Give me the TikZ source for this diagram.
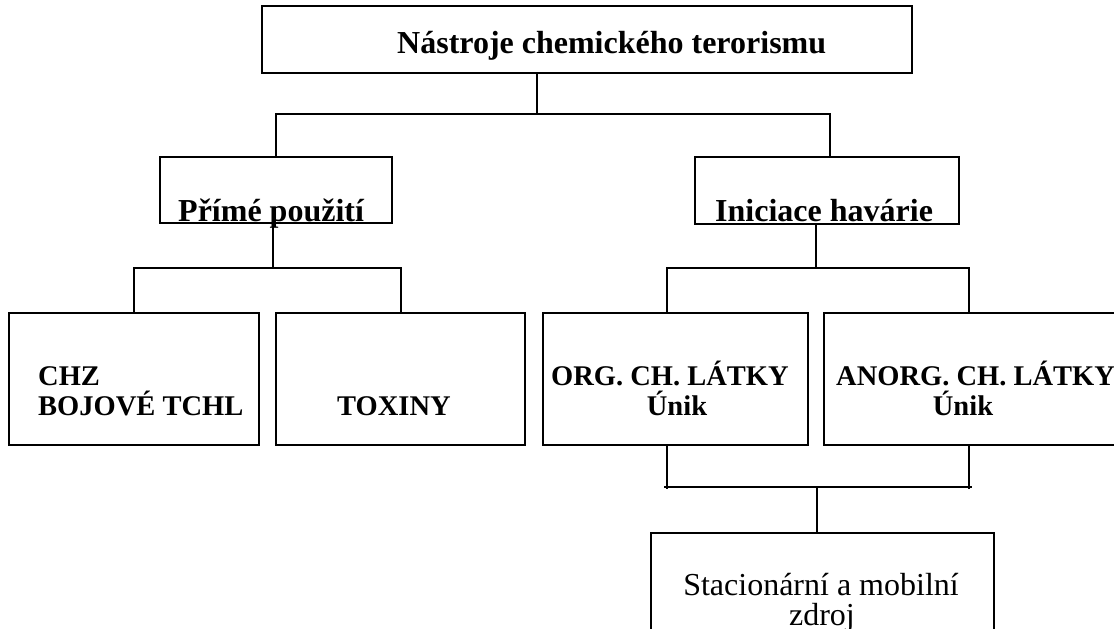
\documentclass[tikz,border=0pt]{standalone}
\usepackage{fontspec}
\setmainfont{Liberation Serif}
\begin{document}
\begin{tikzpicture}[x=1pt,y=-1pt,
  box/.style={draw, line width=1.4pt, inner sep=0pt, outer sep=0pt},
  conn/.style={line width=1.4pt},
  tb/.style={inner sep=0pt, anchor=base west, font=\bfseries\fontsize{32}{30}\selectfont},
  ts/.style={inner sep=0pt, anchor=base west, font=\bfseries\fontsize{28.5}{30}\selectfont},
  tr/.style={inner sep=0pt, anchor=base, font=\fontsize{32}{30}\selectfont}]
\useasboundingbox (0,0) rectangle (1114,629);
% boxes
\node[box, minimum width=650pt, minimum height=67pt] (top) at (587,39.5) {};
\node[box, minimum width=232pt, minimum height=66pt] (pp) at (276,190) {};
\node[box, minimum width=264pt, minimum height=67pt] (ih) at (827,190.5) {};
\node[box, minimum width=250pt, minimum height=132pt] (chz) at (134,379) {};
\node[box, minimum width=249pt, minimum height=132pt] (tox) at (400.5,379) {};
\node[box, minimum width=265pt, minimum height=132pt] (org) at (675.5,379) {};
\node[box, minimum width=300pt, minimum height=132pt] (an) at (974,379) {};
\node[box, minimum width=343pt, minimum height=117pt] (st) at (822.5,591.5) {};
% junctions
\coordinate (a0) at (537,114);
\coordinate (aL) at (276,114);
\coordinate (aR) at (830,114);
\coordinate (b0) at (273,268);
\coordinate (bL) at (134,268);
\coordinate (bR) at (401,268);
\coordinate (c0) at (816,268);
\coordinate (cL) at (667,268);
\coordinate (cR) at (969,268);
\coordinate (dL) at (667,487);
\coordinate (dR) at (969,487);
\coordinate (d0) at (817,487);
% connectors
\draw[conn] (top.south -| a0) -- (a0);
\draw[conn] (aL |- pp.north) -- (aL) -- (aR) -- (aR |- ih.north);
\draw[conn] (pp.south -| b0) -- (b0);
\draw[conn] (bL |- chz.north) -- (bL) -- (bR) -- (bR |- tox.north);
\draw[conn] (ih.south -| c0) -- (c0);
\draw[conn] (cL |- org.north) -- (cL) -- (cR) -- (cR |- an.north);
\draw[conn] (org.south -| dL) -- ([yshift=-2pt]dL);
\draw[conn] (an.south -| dR) -- ([yshift=-2pt]dR);
\draw[conn] ([xshift=-3pt]dL) -- ([xshift=3pt]dR);
\draw[conn] (d0) -- (d0 |- st.north);
% texts
\node[tb] (ttop) at (397,53) {Nástroje chemického terorismu};
\node[tb] (tpp) at (178,221) {Přímé použití};
\node[tb] (tih) at (715,221) {Iniciace havárie};
\node[ts] (tchz1) at (38,385) {CHZ};
\node[ts] (tchz2) at (38,415) {BOJOVÉ TCHL};
\node[ts] (ttox) at (337,415) {TOXINY};
\node[ts] (torg1) at (551,385) {ORG. CH. LÁTKY};
\node[ts, anchor=base] (torg2) at (677,415) {Únik};
\node[ts] (tan1) at (836,385) {ANORG. CH. LÁTKY};
\node[ts, anchor=base] (tan2) at (963,415) {Únik};
\node[tr] (tst1) at (821,595) {Stacionární a mobilní};
\node[tr] (tst2) at (822,625) {zdroj};
\end{tikzpicture}
\end{document}
